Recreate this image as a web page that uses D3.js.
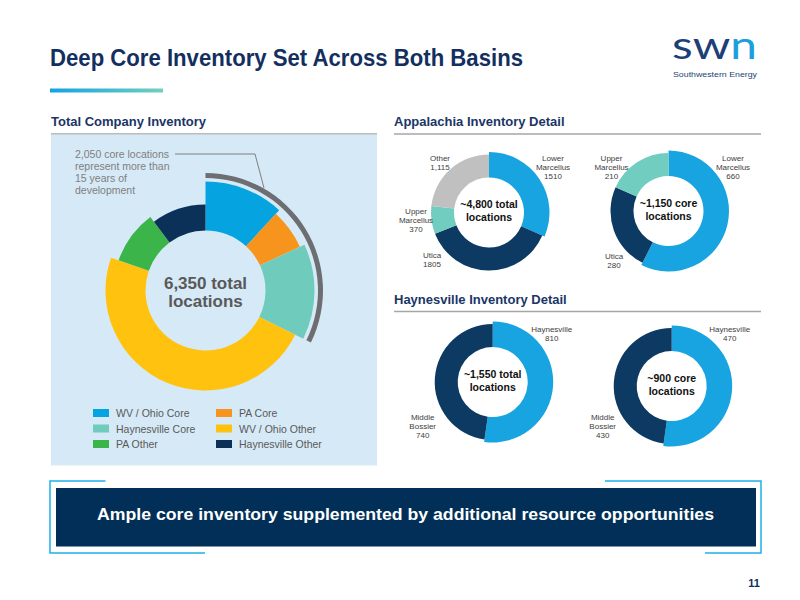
<!DOCTYPE html>
<html>
<head>
<meta charset="utf-8">
<script src="https://cdn.jsdelivr.net/npm/d3@7"></script>
<style>
body { margin: 0; background: #fff; }
svg { display: block; font-family: "Liberation Sans", Arial, sans-serif; }
</style>
</head>
<body>
<div id="chart"></div>
<script>
// Total company inventory (locations)
let totalNames = ["WV / Ohio Core", "PA Core", "Haynesville Core", "WV / Ohio Other", "PA Other", "Haynesville Other"];
let totalValues = [750, 400, 900, 3050, 600, 650];
let coreNames = ["WV / Ohio Core", "PA Core", "Haynesville Core"];

// Appalachia detail
let appTotalNames = ["Lower Marcellus", "Utica", "Upper Marcellus", "Other"];
let appTotalValues = [1510, 1805, 370, 1115];
let appTotalText = ["1510", "1805", "370", "1,115"];
let appCoreNames = ["Lower Marcellus", "Utica", "Upper Marcellus"];
let appCoreValues = [660, 280, 210];
let appCoreText = ["660", "280", "210"];

// Haynesville detail
let hayNames = ["Haynesville", "Middle Bossier"];
let hayTotalValues = [810, 740];
let hayTotalText = ["810", "740"];
let hayCoreValues = [470, 430];
let hayCoreText = ["470", "430"];

const W = 800, H = 600;
const NAVY = "#132f5f";

let svg = d3.select("#chart").append("svg")
    .attr("width", W)
    .attr("height", H);

let defs = svg.append("defs");
let grad = defs.append("linearGradient").attr("id", "titlebar");
grad.append("stop").attr("offset", "0%").attr("stop-color", "#12a3e3");
grad.append("stop").attr("offset", "100%").attr("stop-color", "#73cfbf");

// title
svg.append("text")
    .attr("x", 50).attr("y", 66)
    .attr("textLength", 473).attr("lengthAdjust", "spacingAndGlyphs")
    .style("font-size", "24px").style("font-weight", "bold")
    .attr("fill", NAVY)
    .text("Deep Core Inventory Set Across Both Basins");
svg.append("rect")
    .attr("x", 50).attr("y", 88.5).attr("width", 113).attr("height", 4)
    .attr("fill", "url(#titlebar)");

// logo
let logo = svg.append("text")
    .attr("x", 672).attr("y", 58.5)
    .attr("textLength", 85).attr("lengthAdjust", "spacingAndGlyphs")
    .style("font-family", "Lato, 'Open Sans', sans-serif")
    .style("font-size", "38px").style("font-weight", "normal");
logo.append("tspan").attr("fill", "#1d3f78").text("sw");
logo.append("tspan").attr("fill", "#1aa0dc").text("n");
svg.append("text")
    .attr("x", 673).attr("y", 77)
    .attr("textLength", 84).attr("lengthAdjust", "spacingAndGlyphs")
    .style("font-size", "8px")
    .attr("fill", "#1d3f78")
    .text("Southwestern Energy");

// section headings
function heading(x, y, x2, label) {
    svg.append("text")
        .attr("x", x).attr("y", y)
        .style("font-size", "13px").style("font-weight", "bold")
        .attr("fill", "#1b3566")
        .text(label);
    svg.append("line")
        .attr("x1", x).attr("x2", x2)
        .attr("y1", y + 8).attr("y2", y + 8)
        .attr("stroke", "#a6a6a6").attr("stroke-width", 1.5);
}
heading(51, 126, 377, "Total Company Inventory");
heading(394, 126, 761, "Appalachia Inventory Detail");
heading(394, 303.5, 761, "Haynesville Inventory Detail");

// ----- left panel: total company inventory -----
svg.append("rect")
    .attr("x", 51).attr("y", 134.5).attr("width", 326).attr("height", 331)
    .attr("fill", "#d6e9f6");

let totalColor = d3.scaleOrdinal()
    .domain(totalNames)
    .range(["#05a3e0", "#f7941d", "#6fccbd", "#ffc20e", "#3bb54a", "#0b3158"]);
let totalOuter = d3.scaleOrdinal()
    .domain(totalNames)
    .range([109, 104, 109, 100, 92, 86]);

let tcx = 205.5, tcy = 290.5;
let totalPie = d3.pie().sort(null).value(d => d.value);
let totalData = totalPie(totalNames.map((n, i) => ({name: n, value: totalValues[i]})));

let gTotal = svg.append("g").attr("transform", `translate(${tcx},${tcy})`);
gTotal.selectAll("path.slice")
    .data(totalData)
    .enter()
    .append("path")
    .attr("class", "slice")
    .attr("d", d => d3.arc().innerRadius(60).outerRadius(totalOuter(d.data.name))(d))
    .attr("fill", d => totalColor(d.data.name));

// core arc around the core slices
let coreSum = d3.sum(totalData.filter(d => coreNames.includes(d.data.name)), d => d.value);
let allSum = d3.sum(totalValues);
gTotal.append("path")
    .attr("d", d3.arc().innerRadius(112.5).outerRadius(117.5)
        .startAngle(0).endAngle(2 * Math.PI * coreSum / allSum)())
    .attr("fill", "#6d6e71");

gTotal.selectAll("text.center")
    .data([d3.format(",")(allSum) + " total", "locations"])
    .enter()
    .append("text")
    .attr("class", "center")
    .attr("text-anchor", "middle")
    .attr("y", (d, i) => -2 + i * 18)
    .style("font-size", "17px").style("font-weight", "bold")
    .attr("fill", "#595959")
    .text(d => d);

// annotation
let note = [d3.format(",")(coreSum) + " core locations", "represent more than", "15 years of", "development"];
svg.selectAll("text.note")
    .data(note)
    .enter()
    .append("text")
    .attr("class", "note")
    .attr("x", 75)
    .attr("y", (d, i) => 158 + i * 12)
    .style("font-size", "10.5px")
    .attr("fill", "#7f7f7f")
    .text(d => d);
svg.append("path")
    .attr("d", "M175,154 L255,154 L264,188")
    .attr("fill", "none")
    .attr("stroke", "#7f7f7f")
    .attr("stroke-width", 1);

// legend
let legend = svg.selectAll("g.legend")
    .data(totalNames)
    .enter()
    .append("g")
    .attr("class", "legend")
    .attr("transform", (d, i) => `translate(${i % 2 === 0 ? 93 : 216},${413 + Math.floor(i / 2) * 15.5})`);
legend.append("rect")
    .attr("x", 0).attr("y", -4).attr("width", 16).attr("height", 8)
    .attr("fill", d => totalColor(d));
legend.append("text")
    .attr("x", 23).attr("y", 4)
    .style("font-size", "10.5px")
    .attr("fill", "#595959")
    .text(d => d);

// ----- detail donuts -----
let detailColor = d3.scaleOrdinal()
    .domain(["Lower Marcellus", "Utica", "Upper Marcellus", "Other", "Haynesville", "Middle Bossier"])
    .range(["#17a4e0", "#0d3a62", "#71cdc0", "#c0c0c0", "#17a4e0", "#0d3a62"]);

function drawDetail(cx, cy, names, values, valueText, centerLines, labelPos) {
    let pie = d3.pie().sort(null);
    let arcs = pie(values);
    let g = svg.append("g").attr("transform", `translate(${cx},${cy})`);
    g.selectAll("path")
        .data(arcs)
        .enter()
        .append("path")
        .attr("d", (d, i) => d3.arc().innerRadius(35).outerRadius(i === 0 ? 60.5 : 58)(d))
        .attr("fill", (d, i) => detailColor(names[i]));

    g.selectAll("text.center")
        .data(centerLines)
        .enter()
        .append("text")
        .attr("class", "center")
        .attr("text-anchor", "middle")
        .attr("y", (d, i) => -4.5 + i * 13)
        .style("font-size", "10.5px").style("font-weight", "bold")
        .attr("fill", "#111")
        .text(d => d);

    // slice labels: name split by word, then value
    names.forEach(function (n, i) {
        let lines = n.split(" ").concat([valueText[i]]);
        g.append("g")
            .selectAll("text")
            .data(lines)
            .enter()
            .append("text")
            .attr("text-anchor", "middle")
            .attr("x", labelPos[i][0])
            .attr("y", (d, j) => labelPos[i][1] + j * 9)
            .style("font-size", "8px")
            .attr("fill", "#404040")
            .text(d => d);
    });
}

drawDetail(489, 212.5, appTotalNames, appTotalValues, appTotalText,
    ["~" + d3.format(",")(d3.sum(appTotalValues)) + " total", "locations"],
    [[64, -51.5], [-57, 45.5], [-73, 1.5], [-49, -51.5]]);
drawDetail(668.5, 211, appCoreNames, appCoreValues, appCoreText,
    ["~" + d3.format(",")(d3.sum(appCoreValues)) + " core", "locations"],
    [[64.5, -50], [-54.5, 47.7], [-57, -50]]);
drawDetail(492.7, 382, hayNames, hayTotalValues, hayTotalText,
    ["~" + d3.format(",")(d3.sum(hayTotalValues)) + " total", "locations"],
    [[59, -50], [-70, 37.7]]);
drawDetail(671.7, 386, hayNames, hayCoreValues, hayCoreText,
    ["~" + d3.format(",")(d3.sum(hayCoreValues)) + " core", "locations"],
    [[58, -54], [-69, 34]]);

// ----- bottom banner -----
svg.append("rect")
    .attr("x", 56).attr("y", 488).attr("width", 700).attr("height", 58.5)
    .attr("fill", "#012f57");
svg.append("path")
    .attr("d", "M105.5,481 L50,481 L50,553 L205,553 M605,481 L761,481 L761,553 L705,553")
    .attr("fill", "none")
    .attr("stroke", "#1cb0ea")
    .attr("stroke-width", 1.5);
svg.append("text")
    .attr("x", 97).attr("y", 520)
    .attr("textLength", 617).attr("lengthAdjust", "spacingAndGlyphs")
    .style("font-size", "16.5px").style("font-weight", "bold")
    .attr("fill", "#fff")
    .text("Ample core inventory supplemented by additional resource opportunities");

// page number
svg.append("text")
    .attr("x", 760).attr("y", 587)
    .attr("text-anchor", "end")
    .style("font-size", "11px").style("font-weight", "bold")
    .attr("fill", NAVY)
    .text("11");
</script>
</body>
</html>
